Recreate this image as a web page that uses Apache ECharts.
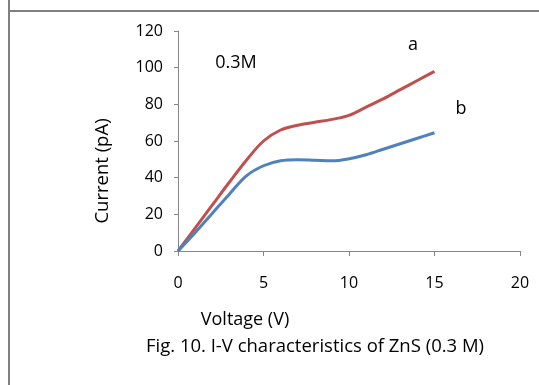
<!DOCTYPE html>
<html>
<head>
<meta charset="utf-8">
<script src="https://cdn.jsdelivr.net/npm/echarts@6/dist/echarts.min.js"></script>
<style>html,body{margin:0;padding:0;background:#fff;}#c{width:539px;height:385px;}</style>
</head>
<body>
<div id="c"></div>
<script>
var voltage = [0, 1, 2, 3, 4, 5, 6, 7, 8, 9, 10, 11, 12, 13, 14, 15];
var currentA = [0, 12.5, 25, 37.5, 49.5, 60, 66, 68.6, 70.2, 71.8, 74, 78.5, 83, 88, 93, 98];
var currentB = [0, 10, 20.5, 31, 41, 46.5, 49.2, 49.8, 49.5, 49.2, 50.3, 52.5, 55.5, 58.5, 61.5, 64.5];
var xTicks = [0, 5, 10, 15, 20];
var yTicks = [0, 20, 40, 60, 80, 100, 120];
var xTitle = 'Voltage (V)';
var yTitle = 'Current (pA)';
var caption = 'Fig. 10. I-V characteristics of ZnS (0.3 M)';
var note = '0.3M';
var labelA = 'a', labelB = 'b';

function pairs(xs, ys) { return xs.map(function (x, i) { return [x, ys[i]]; }); }

var font = 'Open Sans';
var f18 = '18px "Open Sans"';
var chart = echarts.init(document.getElementById('c'), null, {renderer: 'canvas'});
chart.setOption({
  animation: false,
  grid: {left: 178, right: 19, top: 31, bottom: 134},
  xAxis: {
    type: 'value', min: xTicks[0], max: xTicks[xTicks.length - 1], interval: 5,
    axisLine: {lineStyle: {color: '#868686', width: 1}},
    axisTick: {show: true, length: 5, lineStyle: {color: '#868686'}},
    splitLine: {show: false},
    axisLabel: {margin: 24, color: '#000', fontFamily: font, fontSize: 16}
  },
  yAxis: {
    type: 'value', min: yTicks[0], max: yTicks[yTicks.length - 1], interval: 20,
    axisLine: {show: true, lineStyle: {color: '#868686', width: 1}},
    axisTick: {show: true, length: 4, lineStyle: {color: '#868686'}},
    splitLine: {show: false},
    axisLabel: {margin: 15, color: '#000', fontFamily: font, fontSize: 16}
  },
  series: [
    {type: 'line', data: pairs(voltage, currentA), smooth: 0.35, showSymbol: false,
     lineStyle: {color: '#C0504D', width: 3}},
    {type: 'line', data: pairs(voltage, currentB), smooth: 0.35, showSymbol: false,
     lineStyle: {color: '#4F81BD', width: 3}}
  ],
  graphic: [
    {type: 'line', shape: {x1: 9, y1: 0, x2: 9, y2: 385}, style: {stroke: '#808080', lineWidth: 2}},
    {type: 'line', shape: {x1: 9, y1: 11, x2: 539, y2: 11}, style: {stroke: '#808080', lineWidth: 2}},
    {type: 'text', x: 245, y: 320, style: {text: xTitle, fill: '#000', font: f18, textAlign: 'center', textVerticalAlign: 'middle'}},
    {type: 'text', x: 103, y: 171, rotation: Math.PI / 2, style: {text: yTitle, fill: '#000', font: '18.5px "Open Sans"', textAlign: 'center', textVerticalAlign: 'middle'}},
    {type: 'text', x: 315, y: 347, style: {text: caption, fill: '#000', font: '18.5px "Open Sans"', textAlign: 'center', textVerticalAlign: 'middle'}},
    {type: 'text', x: 236, y: 63, style: {text: note, fill: '#000', font: f18, textAlign: 'center', textVerticalAlign: 'middle'}},
    {type: 'text', x: 413, y: 45, style: {text: labelA, fill: '#000', font: f18, textAlign: 'center', textVerticalAlign: 'middle'}},
    {type: 'text', x: 461, y: 109, style: {text: labelB, fill: '#000', font: f18, textAlign: 'center', textVerticalAlign: 'middle'}}
  ]
});
</script>
</body>
</html>
